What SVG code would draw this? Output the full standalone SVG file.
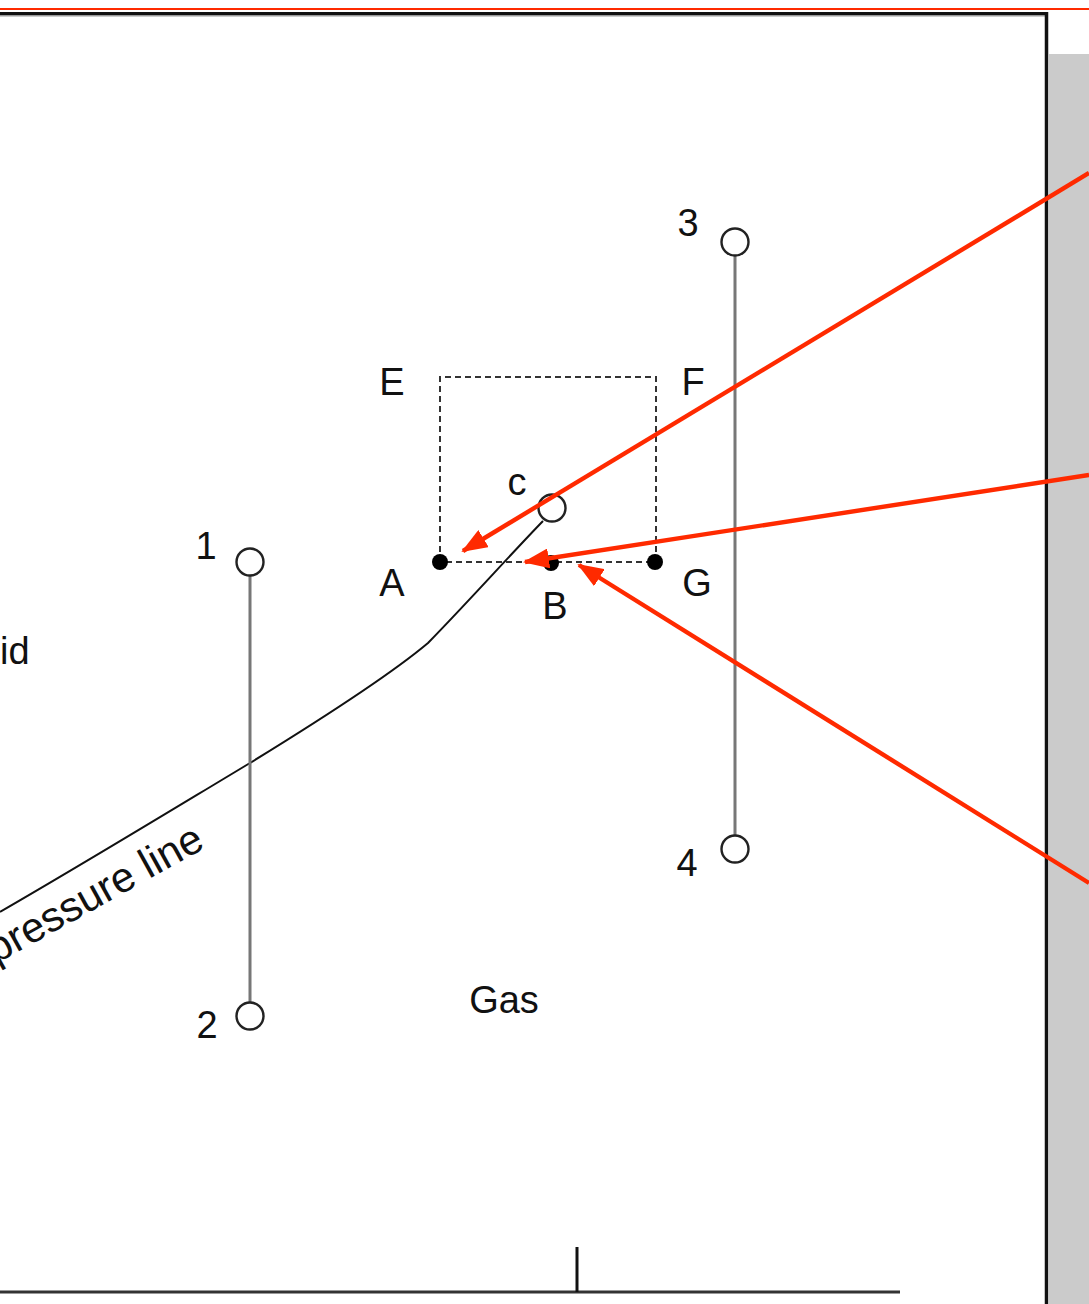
<svg xmlns="http://www.w3.org/2000/svg" width="1089" height="1304" viewBox="0 0 1089 1304">
<defs>
<style>
.lbl{font-family:"Liberation Sans",Arial,sans-serif;font-size:38px;fill:#111;text-anchor:middle}
.node{fill:#fff;stroke:#222;stroke-width:2.4}
.stem{stroke:#777;stroke-width:3;fill:none}
.dot{fill:#000}
.red{stroke:#ff2a00;stroke-width:4.4;fill:none}
</style>
<marker id="ah" markerUnits="userSpaceOnUse" markerWidth="28" markerHeight="20" refX="24" refY="10" orient="auto">
<path d="M0,0 L26,10 L0,20 Z" fill="#ff2a00"/>
</marker>
</defs>
<rect width="1089" height="1304" fill="#fff"/>
<!-- frame -->
<rect x="1049" y="54" width="40" height="1250" fill="#cbcbcb"/>
<line x1="0" y1="9" x2="1089" y2="9" stroke="#ff2a00" stroke-width="2"/>
<line x1="0" y1="15.5" x2="1047" y2="15.5" stroke="#999" stroke-width="2"/>
<line x1="0" y1="13.5" x2="1047" y2="13.5" stroke="#111" stroke-width="3"/>
<line x1="1046.5" y1="12" x2="1046.5" y2="1304" stroke="#111" stroke-width="3.5"/>
<!-- axis -->
<line x1="0" y1="1292" x2="900" y2="1292" stroke="#333" stroke-width="3"/>
<line x1="577" y1="1247" x2="577" y2="1292" stroke="#111" stroke-width="3"/>
<!-- region labels -->
<text class="lbl" x="0" y="664" style="text-anchor:start">id</text>
<text class="lbl" x="504" y="1013">Gas</text>
<!-- pressure line -->
<path d="M0,912 C90,860 180,805 250,763 C320,720 390,675 428,643 C470,600 510,555 543,521" stroke="#111" stroke-width="2" fill="none"/>
<text class="lbl" transform="translate(-4,964) rotate(-29)" style="text-anchor:start;font-size:42px">pressure line</text>
<!-- dashed box -->
<path d="M440,562 L440,377 L656,377 L656,562 L440,562" stroke="#333" stroke-width="2" stroke-dasharray="6,4" fill="none"/>
<g id="connectors">
<line class="stem" x1="250" y1="575" x2="250" y2="1003"/>
<line class="stem" x1="735" y1="256" x2="735" y2="836"/>
</g>
<g id="node-A"><circle class="dot" cx="440" cy="562" r="8"/><text class="lbl" x="392" y="596">A</text></g>
<g id="node-B"><circle class="dot" cx="551" cy="563" r="8"/><text class="lbl" x="555" y="619">B</text></g>
<g id="node-G"><circle class="dot" cx="655" cy="562" r="8"/><text class="lbl" x="697" y="596">G</text></g>
<g id="node-E"><text class="lbl" x="392" y="395">E</text></g>
<g id="node-F"><text class="lbl" x="693" y="395">F</text></g>
<g id="node-c"><circle class="node" cx="552" cy="508" r="13.5"/><text class="lbl" x="517" y="495">c</text></g>
<g id="node-1"><circle class="node" cx="250" cy="562" r="13.5"/><text class="lbl" x="206" y="559">1</text></g>
<g id="node-2"><circle class="node" cx="250" cy="1016" r="13.5"/><text class="lbl" x="207" y="1038">2</text></g>
<g id="node-3"><circle class="node" cx="735" cy="242" r="13.5"/><text class="lbl" x="688" y="236">3</text></g>
<g id="node-4"><circle class="node" cx="735" cy="849" r="13.5"/><text class="lbl" x="687" y="876">4</text></g>
<g id="arrows">
<line class="red" x1="1089" y1="173" x2="463" y2="551" marker-end="url(#ah)"/>
<line class="red" x1="1089" y1="475" x2="525" y2="562" marker-end="url(#ah)"/>
<line class="red" x1="1089" y1="883" x2="579" y2="565" marker-end="url(#ah)"/>
</g>
</svg>
